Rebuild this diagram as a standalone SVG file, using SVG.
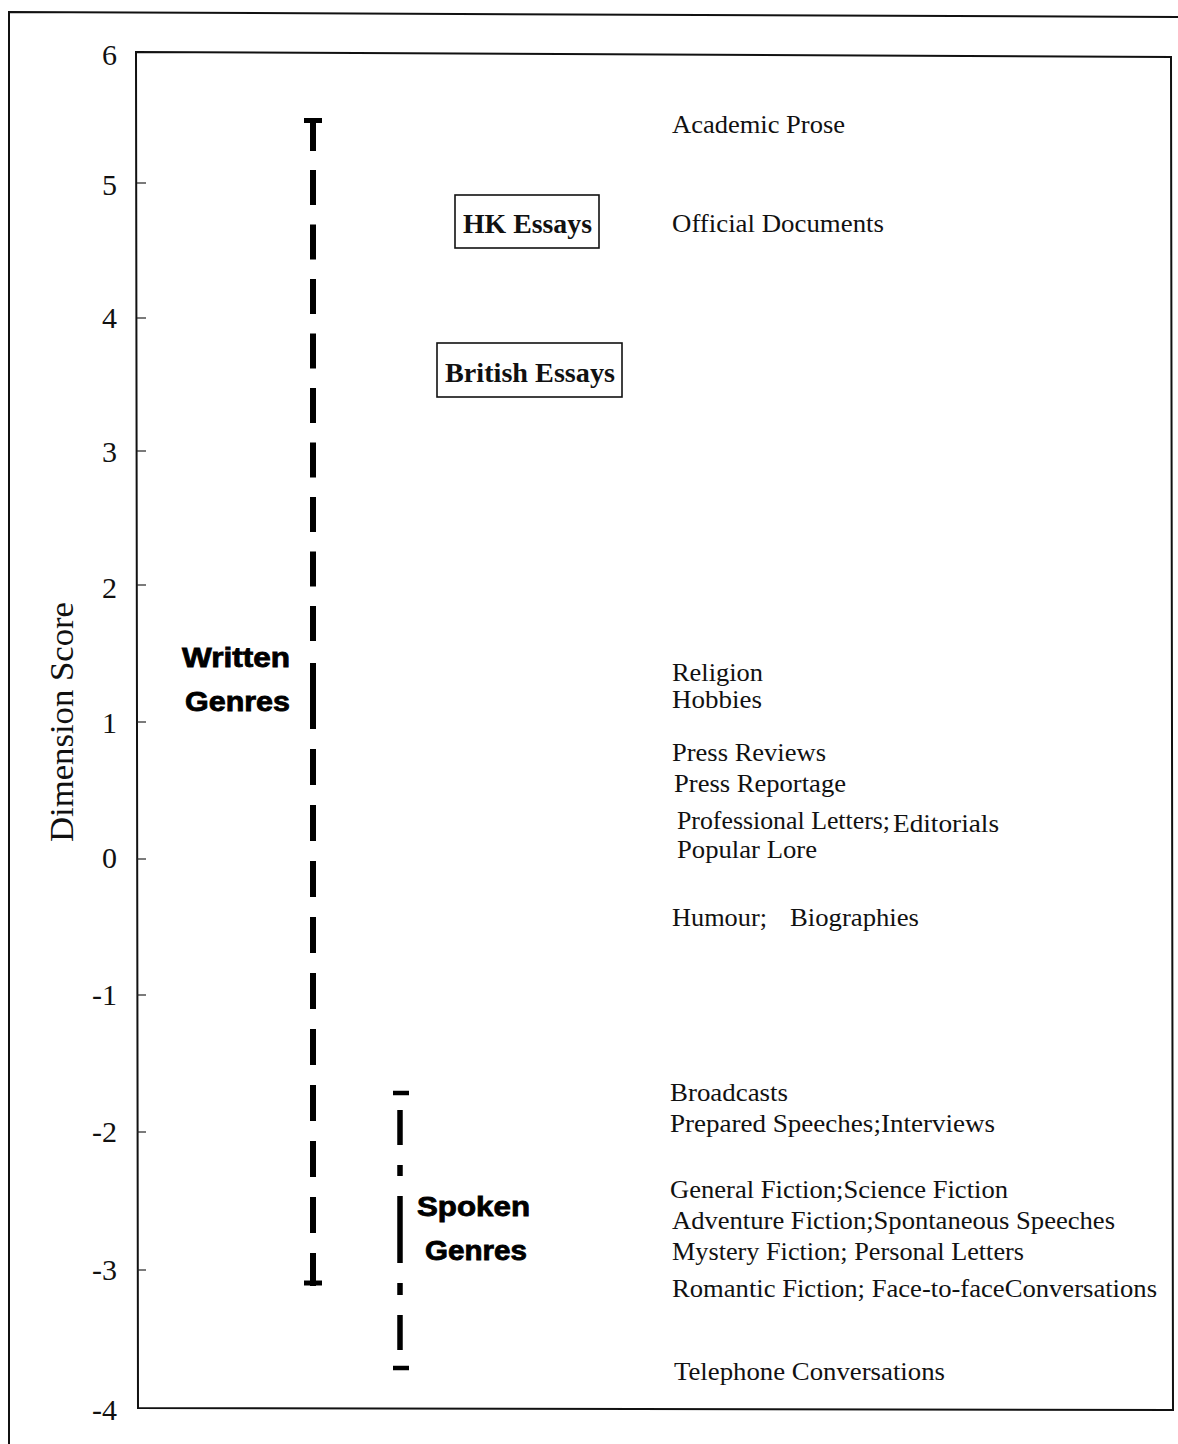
<svg xmlns="http://www.w3.org/2000/svg" width="1178" height="1444" viewBox="0 0 1178 1444">
  <style>
    .frame { fill: none; stroke: #111; stroke-width: 2; }
    .tick { stroke: #222; stroke-width: 1.2; }
    .ylab { font-family: "Liberation Serif", "Times New Roman", serif; font-size: 30px; fill: #111; text-anchor: end; }
    .ytitle { font-family: "Liberation Serif", "Times New Roman", serif; font-size: 33px; fill: #111; text-anchor: middle; }
    .genre { font-family: "Liberation Serif", "Times New Roman", serif; font-size: 26px; fill: #111; }
    .boxed { font-family: "Liberation Serif", "Times New Roman", serif; font-size: 27px; font-weight: bold; fill: #111; }
    .box { fill: #fff; stroke: #111; stroke-width: 1.6; }
    .group { font-family: "Liberation Sans", Arial, sans-serif; font-size: 27px; font-weight: bold; fill: #000; stroke: #000; stroke-width: 0.8; }
    .bar { stroke: #000; fill: none; stroke-linecap: butt; }
  </style>

  <rect width="1178" height="1444" fill="#fff"/>

  <!-- outer page border (runs off the right and bottom edges) -->
  <path class="frame" d="M9,1444 L9,12 L1178,17"/>

  <!-- plot area -->
  <path class="frame" d="M136,52 L1171,57 L1173,1410 L138,1408 Z"/>

  <!-- y axis ticks and labels -->
  <g id="y-axis">
    <line class="tick" x1="137" y1="183" x2="146" y2="183"/>
    <line class="tick" x1="137" y1="318" x2="146" y2="318"/>
    <line class="tick" x1="137" y1="451" x2="146" y2="451"/>
    <line class="tick" x1="137" y1="585" x2="146" y2="585"/>
    <line class="tick" x1="137" y1="722" x2="146" y2="722"/>
    <line class="tick" x1="137" y1="859" x2="146" y2="859"/>
    <line class="tick" x1="137" y1="995" x2="146" y2="995"/>
    <line class="tick" x1="137" y1="1132" x2="146" y2="1132"/>
    <line class="tick" x1="137" y1="1270" x2="146" y2="1270"/>
    <text class="ylab" x="117" y="65">6</text>
    <text class="ylab" x="117" y="195">5</text>
    <text class="ylab" x="117" y="328">4</text>
    <text class="ylab" x="117" y="462">3</text>
    <text class="ylab" x="117" y="598">2</text>
    <text class="ylab" x="117" y="733">1</text>
    <text class="ylab" x="117" y="868">0</text>
    <text class="ylab" x="117" y="1005">-1</text>
    <text class="ylab" x="117" y="1142">-2</text>
    <text class="ylab" x="117" y="1280">-3</text>
    <text class="ylab" x="117" y="1420">-4</text>
    <text class="ytitle" transform="translate(73,722) rotate(-90)" textLength="240" lengthAdjust="spacingAndGlyphs">Dimension Score</text>
  </g>

  <!-- range bars -->
  <g id="connectors">
    <g id="written-range">
      <!-- top cap -->
      <line class="bar" x1="304" y1="120.5" x2="322" y2="120.5" stroke-width="5"/>
      <line class="bar" x1="313" y1="118" x2="313" y2="151" stroke-width="6"/>
      <line class="bar" x1="313" y1="170" x2="313" y2="642" stroke-width="6" stroke-dasharray="35 19.5"/>
      <line class="bar" x1="313" y1="663" x2="313" y2="729" stroke-width="6"/>
      <line class="bar" x1="313" y1="749" x2="313" y2="1286" stroke-width="6" stroke-dasharray="36 20"/>
      <!-- bottom cap -->
      <line class="bar" x1="304" y1="1283" x2="322" y2="1283" stroke-width="5"/>
    </g>
    <g id="spoken-range">
      <line class="bar" x1="393" y1="1093" x2="409" y2="1093" stroke-width="4.5"/>
      <line class="bar" x1="400" y1="1110" x2="400" y2="1145" stroke-width="5.5"/>
      <line class="bar" x1="400" y1="1165" x2="400" y2="1176" stroke-width="5.5"/>
      <line class="bar" x1="400" y1="1196" x2="400" y2="1263" stroke-width="5.5"/>
      <line class="bar" x1="400" y1="1283" x2="400" y2="1295" stroke-width="5.5"/>
      <line class="bar" x1="400" y1="1315" x2="400" y2="1350" stroke-width="5.5"/>
      <line class="bar" x1="393" y1="1368" x2="409" y2="1368" stroke-width="4.5"/>
    </g>
  </g>

  <!-- range labels -->
  <g id="written-genres">
    <text class="group" x="182" y="667" textLength="108" lengthAdjust="spacingAndGlyphs">Written</text>
    <text class="group" x="185" y="711" textLength="105" lengthAdjust="spacingAndGlyphs">Genres</text>
  </g>
  <g id="spoken-genres">
    <text class="group" x="417" y="1216" textLength="113" lengthAdjust="spacingAndGlyphs">Spoken</text>
    <text class="group" x="425" y="1260" textLength="102" lengthAdjust="spacingAndGlyphs">Genres</text>
  </g>

  <!-- essay corpora -->
  <g id="hk-essays">
    <rect class="box" x="455" y="195" width="144" height="53"/>
    <text class="boxed" x="463" y="233" textLength="129" lengthAdjust="spacingAndGlyphs">HK Essays</text>
  </g>
  <g id="british-essays">
    <rect class="box" x="437" y="343" width="185" height="54"/>
    <text class="boxed" x="445" y="382" textLength="170" lengthAdjust="spacingAndGlyphs">British Essays</text>
  </g>

  <!-- register labels, placed at their dimension scores -->
  <g id="registers">
    <text class="genre" x="672" y="133" textLength="173" lengthAdjust="spacingAndGlyphs">Academic Prose</text>
    <text class="genre" x="672" y="232" textLength="212" lengthAdjust="spacingAndGlyphs">Official Documents</text>
    <text class="genre" x="672" y="681" textLength="91" lengthAdjust="spacingAndGlyphs">Religion</text>
    <text class="genre" x="672" y="708" textLength="90" lengthAdjust="spacingAndGlyphs">Hobbies</text>
    <text class="genre" x="672" y="761" textLength="154" lengthAdjust="spacingAndGlyphs">Press Reviews</text>
    <text class="genre" x="674" y="792" textLength="172" lengthAdjust="spacingAndGlyphs">Press Reportage</text>
    <text class="genre" x="677" y="829" textLength="213" lengthAdjust="spacingAndGlyphs">Professional Letters;</text>
    <text class="genre" x="893" y="832" textLength="106" lengthAdjust="spacingAndGlyphs">Editorials</text>
    <text class="genre" x="677" y="858" textLength="140" lengthAdjust="spacingAndGlyphs">Popular Lore</text>
    <text class="genre" x="672" y="926" textLength="95" lengthAdjust="spacingAndGlyphs">Humour;</text>
    <text class="genre" x="790" y="926" textLength="129" lengthAdjust="spacingAndGlyphs">Biographies</text>
    <text class="genre" x="670" y="1101" textLength="118" lengthAdjust="spacingAndGlyphs">Broadcasts</text>
    <text class="genre" x="670" y="1132" textLength="325" lengthAdjust="spacingAndGlyphs">Prepared Speeches;Interviews</text>
    <text class="genre" x="670" y="1198" textLength="338" lengthAdjust="spacingAndGlyphs">General Fiction;Science Fiction</text>
    <text class="genre" x="672" y="1229" textLength="443" lengthAdjust="spacingAndGlyphs">Adventure Fiction;Spontaneous Speeches</text>
    <text class="genre" x="672" y="1260" textLength="352" lengthAdjust="spacingAndGlyphs">Mystery Fiction; Personal Letters</text>
    <text class="genre" x="672" y="1297" textLength="485" lengthAdjust="spacingAndGlyphs">Romantic Fiction; Face-to-faceConversations</text>
    <text class="genre" x="674" y="1380" textLength="271" lengthAdjust="spacingAndGlyphs">Telephone Conversations</text>
  </g>
</svg>
